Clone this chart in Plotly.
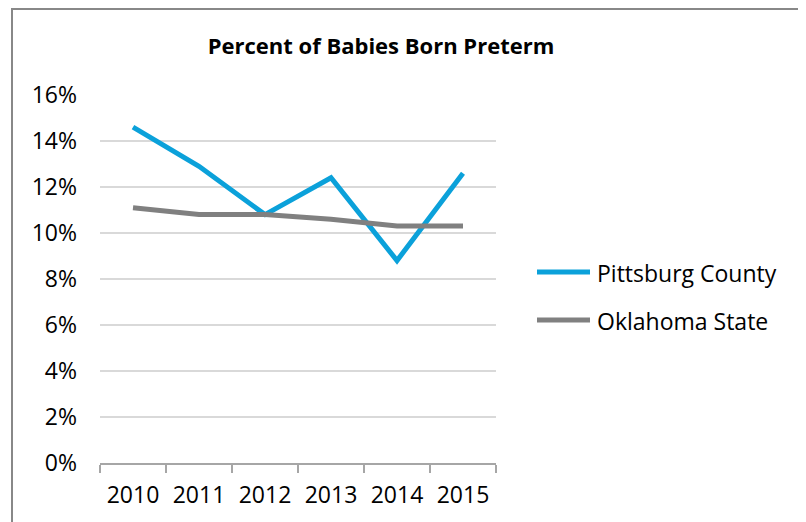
import plotly.graph_objects as go

years = ["2010", "2011", "2012", "2013", "2014", "2015"]
pittsburg = [14.6, 12.9, 10.8, 12.4, 8.8, 12.6]
oklahoma = [11.1, 10.8, 10.8, 10.6, 10.3, 10.3]
y_ticks = [0, 2, 4, 6, 8, 10, 12, 14, 16]
series_names = ["Pittsburg County", "Oklahoma State"]
series_colors = ["#0BA1DA", "#808080"]

FONT = "Open Sans"
OFF = 8  # default page body margin

fig = go.Figure()
for name, vals, col in zip(series_names, [pittsburg, oklahoma], series_colors):
    fig.add_trace(go.Scatter(x=years, y=vals, mode="lines", name=name,
                             line=dict(color=col, width=5)))

W, H = 806 - OFF, 522 - OFF
L, R, T, B = 100 - OFF, 806 - 496, 95 - OFF, 522 - 463
pw, ph = W - L - R, H - T - B

def px_x(x):
    return (x - OFF - L) / pw

def px_y(y):
    return (H - B - (y - OFF)) / ph

# outer chart border
fig.add_shape(type="rect", xref="paper", yref="paper",
              x0=px_x(12), x1=px_x(802), y0=px_y(560), y1=px_y(9),
              line=dict(color="#888888", width=2), fillcolor="rgba(0,0,0,0)", layer="below")

# legend drawn by hand (longer line samples, as in the reference)
legend_y = [272, 320]
for name, col, ly in zip(series_names, series_colors, legend_y):
    fig.add_shape(type="line", xref="paper", yref="paper",
                  x0=px_x(537), x1=px_x(590), y0=px_y(ly), y1=px_y(ly),
                  line=dict(color=col, width=5))
    fig.add_annotation(xref="paper", yref="paper", x=px_x(595), y=px_y(ly + 1),
                       xanchor="left", yanchor="middle", showarrow=False, text=name,
                       font=dict(family=FONT, size=23, color="#000000"))

fig.update_layout(
    width=W, height=H,
    margin=dict(l=L, r=R, t=T, b=B),
    paper_bgcolor="white", plot_bgcolor="white",
    font=dict(family=FONT, color="#000000", size=23),
    title=dict(text="<b>Percent of Babies Born Preterm</b>", x=(381 - OFF) / W, xanchor="center",
               y=1 - (46 - OFF) / H, yanchor="middle", font=dict(family=FONT, size=22, color="#000000")),
    showlegend=False,
    xaxis=dict(type="category", tickson="boundaries", ticks="outside", ticklen=8,
               tickcolor="#A6A6A6", tickwidth=1.5, showline=True, linecolor="#A6A6A6",
               linewidth=1.5, showgrid=False, tickfont=dict(family=FONT, size=23),
               ticklabelstandoff=11,
               range=[-0.5, 5.5], fixedrange=True),
    yaxis=dict(range=[0, 16], tickvals=y_ticks, ticktext=[f"{v}%" for v in y_ticks],
               showgrid=True, gridcolor="#D9D9D9", gridwidth=1.5, zeroline=False,
               showline=False, ticks="", ticklabelstandoff=22,
               tickfont=dict(family=FONT, size=23)),
)

fig.write_html("out.html")
